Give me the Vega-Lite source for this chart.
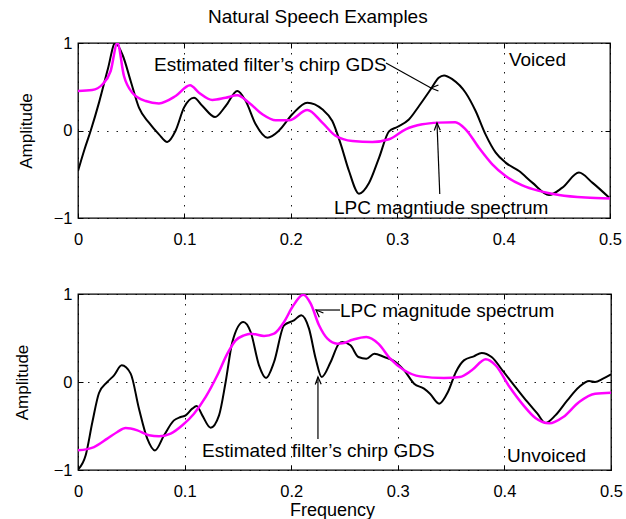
{
  "$schema": "https://vega.github.io/schema/vega-lite/v6.json",
  "padding": {"left": 12, "top": 8, "right": 8, "bottom": 0},
  "title": {"text": "Natural Speech Examples", "fontSize": 19, "fontWeight": "normal", "anchor": "middle", "offset": 7, "color": "#000"},
  "config": {
    "font": "Liberation Sans",
    "view": {"stroke": "#000", "strokeWidth": 1.3},
    "axis": {
      "labelFontSize": 16.5, "labelColor": "#000", "titleFontSize": 17, "titleFontWeight": "normal", "titleColor": "#000",
      "format": "~g",
      "domain": false, "ticks": true, "tickSize": -5, "tickColor": "#000", "tickWidth": 1,
      "grid": true, "gridColor": "#000", "gridDash": [1.5, 8], "gridWidth": 1, "gridOpacity": 0.9
    }
  },
  "datasets": {
    "voiced": [
      {"series": "gds", "f": 0.0, "amp": -0.463}, {"series": "gds", "f": 0.006, "amp": -0.22}, {"series": "gds", "f": 0.012, "amp": 0.0},
      {"series": "gds", "f": 0.02, "amp": 0.33}, {"series": "gds", "f": 0.028, "amp": 0.7}, {"series": "gds", "f": 0.035, "amp": 1.0},
      {"series": "gds", "f": 0.042, "amp": 0.86}, {"series": "gds", "f": 0.0495, "amp": 0.566}, {"series": "gds", "f": 0.0573, "amp": 0.261},
      {"series": "gds", "f": 0.0667, "amp": 0.089}, {"series": "gds", "f": 0.0761, "amp": -0.044}, {"series": "gds", "f": 0.0839, "amp": -0.131},
      {"series": "gds", "f": 0.0918, "amp": 0.0}, {"series": "gds", "f": 0.0996, "amp": 0.261}, {"series": "gds", "f": 0.109, "amp": 0.375},
      {"series": "gds", "f": 0.117, "amp": 0.28}, {"series": "gds", "f": 0.1288, "amp": 0.154}, {"series": "gds", "f": 0.1388, "amp": 0.28},
      {"series": "gds", "f": 0.1497, "amp": 0.451}, {"series": "gds", "f": 0.1576, "amp": 0.337}, {"series": "gds", "f": 0.167, "amp": 0.071},
      {"series": "gds", "f": 0.178, "amp": -0.082}, {"series": "gds", "f": 0.189, "amp": 0.0}, {"series": "gds", "f": 0.2014, "amp": 0.185},
      {"series": "gds", "f": 0.2155, "amp": 0.318}, {"series": "gds", "f": 0.2296, "amp": 0.242}, {"series": "gds", "f": 0.239, "amp": 0.108},
      {"series": "gds", "f": 0.247, "amp": -0.158}, {"series": "gds", "f": 0.2547, "amp": -0.463}, {"series": "gds", "f": 0.2641, "amp": -0.722},
      {"series": "gds", "f": 0.2735, "amp": -0.6}, {"series": "gds", "f": 0.283, "amp": -0.31}, {"series": "gds", "f": 0.2923, "amp": -0.01},
      {"series": "gds", "f": 0.3, "amp": 0.04}, {"series": "gds", "f": 0.311, "amp": 0.126}, {"series": "gds", "f": 0.3205, "amp": 0.28},
      {"series": "gds", "f": 0.3315, "amp": 0.471}, {"series": "gds", "f": 0.339, "amp": 0.604}, {"series": "gds", "f": 0.344, "amp": 0.63},
      {"series": "gds", "f": 0.352, "amp": 0.585}, {"series": "gds", "f": 0.3643, "amp": 0.432}, {"series": "gds", "f": 0.3737, "amp": 0.223},
      {"series": "gds", "f": 0.383, "amp": -0.044}, {"series": "gds", "f": 0.3926, "amp": -0.253}, {"series": "gds", "f": 0.4019, "amp": -0.367},
      {"series": "gds", "f": 0.4145, "amp": -0.463}, {"series": "gds", "f": 0.427, "amp": -0.596}, {"series": "gds", "f": 0.4427, "amp": -0.737},
      {"series": "gds", "f": 0.4552, "amp": -0.653}, {"series": "gds", "f": 0.4708, "amp": -0.481}, {"series": "gds", "f": 0.4834, "amp": -0.596},
      {"series": "gds", "f": 0.4991, "amp": -0.767},
      {"series": "lpc", "f": 0.0, "amp": 0.451}, {"series": "lpc", "f": 0.0133, "amp": 0.463}, {"series": "lpc", "f": 0.0229, "amp": 0.526},
      {"series": "lpc", "f": 0.0307, "amp": 0.68}, {"series": "lpc", "f": 0.037, "amp": 1.0}, {"series": "lpc", "f": 0.0432, "amp": 0.623},
      {"series": "lpc", "f": 0.051, "amp": 0.432}, {"series": "lpc", "f": 0.0636, "amp": 0.337}, {"series": "lpc", "f": 0.0761, "amp": 0.31},
      {"series": "lpc", "f": 0.0918, "amp": 0.394}, {"series": "lpc", "f": 0.1053, "amp": 0.516}, {"series": "lpc", "f": 0.1137, "amp": 0.432},
      {"series": "lpc", "f": 0.1263, "amp": 0.349}, {"series": "lpc", "f": 0.1388, "amp": 0.375}, {"series": "lpc", "f": 0.1497, "amp": 0.402},
      {"series": "lpc", "f": 0.1607, "amp": 0.318}, {"series": "lpc", "f": 0.1733, "amp": 0.185}, {"series": "lpc", "f": 0.1858, "amp": 0.116},
      {"series": "lpc", "f": 0.1984, "amp": 0.116}, {"series": "lpc", "f": 0.2155, "amp": 0.234}, {"series": "lpc", "f": 0.2296, "amp": 0.09},
      {"series": "lpc", "f": 0.242, "amp": -0.06}, {"series": "lpc", "f": 0.2579, "amp": -0.12}, {"series": "lpc", "f": 0.2766, "amp": -0.131},
      {"series": "lpc", "f": 0.2923, "amp": -0.1}, {"series": "lpc", "f": 0.3079, "amp": 0.014}, {"series": "lpc", "f": 0.3236, "amp": 0.071},
      {"series": "lpc", "f": 0.339, "amp": 0.09}, {"series": "lpc", "f": 0.3546, "amp": 0.095}, {"series": "lpc", "f": 0.3643, "amp": 0.014},
      {"series": "lpc", "f": 0.3768, "amp": -0.196}, {"series": "lpc", "f": 0.3894, "amp": -0.386}, {"series": "lpc", "f": 0.4019, "amp": -0.52},
      {"series": "lpc", "f": 0.4176, "amp": -0.627}, {"series": "lpc", "f": 0.4333, "amp": -0.69}, {"series": "lpc", "f": 0.4521, "amp": -0.737},
      {"series": "lpc", "f": 0.4771, "amp": -0.767}, {"series": "lpc", "f": 0.5, "amp": -0.778}
    ],
    "unvoiced": [
      {"series": "gds", "f": 0.0, "amp": -0.996}, {"series": "gds", "f": 0.0072, "amp": -0.833}, {"series": "gds", "f": 0.0135, "amp": -0.455},
      {"series": "gds", "f": 0.0197, "amp": -0.125}, {"series": "gds", "f": 0.0275, "amp": 0.0}, {"series": "gds", "f": 0.0338, "amp": 0.076},
      {"series": "gds", "f": 0.041, "amp": 0.189}, {"series": "gds", "f": 0.0494, "amp": 0.095}, {"series": "gds", "f": 0.0572, "amp": -0.303},
      {"series": "gds", "f": 0.065, "amp": -0.644}, {"series": "gds", "f": 0.0722, "amp": -0.777}, {"series": "gds", "f": 0.0807, "amp": -0.606},
      {"series": "gds", "f": 0.09, "amp": -0.436}, {"series": "gds", "f": 0.0963, "amp": -0.398}, {"series": "gds", "f": 0.101, "amp": -0.379},
      {"series": "gds", "f": 0.1072, "amp": -0.303}, {"series": "gds", "f": 0.1113, "amp": -0.273}, {"series": "gds", "f": 0.1166, "amp": -0.379},
      {"series": "gds", "f": 0.1244, "amp": -0.519}, {"series": "gds", "f": 0.1323, "amp": -0.379}, {"series": "gds", "f": 0.1385, "amp": 0.0},
      {"series": "gds", "f": 0.1448, "amp": 0.455}, {"series": "gds", "f": 0.1551, "amp": 0.682}, {"series": "gds", "f": 0.162, "amp": 0.568},
      {"series": "gds", "f": 0.1698, "amp": 0.189}, {"series": "gds", "f": 0.1764, "amp": 0.045}, {"series": "gds", "f": 0.1839, "amp": 0.227},
      {"series": "gds", "f": 0.1933, "amp": 0.644}, {"series": "gds", "f": 0.2026, "amp": 0.701}, {"series": "gds", "f": 0.2095, "amp": 0.758},
      {"series": "gds", "f": 0.2167, "amp": 0.606}, {"series": "gds", "f": 0.223, "amp": 0.265}, {"series": "gds", "f": 0.2286, "amp": 0.057},
      {"series": "gds", "f": 0.237, "amp": 0.227}, {"series": "gds", "f": 0.2448, "amp": 0.436}, {"series": "gds", "f": 0.248, "amp": 0.455},
      {"series": "gds", "f": 0.2556, "amp": 0.417}, {"series": "gds", "f": 0.263, "amp": 0.284}, {"series": "gds", "f": 0.2705, "amp": 0.265},
      {"series": "gds", "f": 0.278, "amp": 0.322}, {"series": "gds", "f": 0.2873, "amp": 0.284}, {"series": "gds", "f": 0.2966, "amp": 0.239},
      {"series": "gds", "f": 0.306, "amp": 0.133}, {"series": "gds", "f": 0.3153, "amp": -0.019}, {"series": "gds", "f": 0.3246, "amp": -0.076},
      {"series": "gds", "f": 0.3302, "amp": -0.133}, {"series": "gds", "f": 0.3388, "amp": -0.246}, {"series": "gds", "f": 0.347, "amp": -0.114},
      {"series": "gds", "f": 0.3545, "amp": 0.114}, {"series": "gds", "f": 0.362, "amp": 0.246}, {"series": "gds", "f": 0.3713, "amp": 0.292},
      {"series": "gds", "f": 0.3787, "amp": 0.33}, {"series": "gds", "f": 0.388, "amp": 0.284}, {"series": "gds", "f": 0.3993, "amp": 0.114},
      {"series": "gds", "f": 0.4104, "amp": -0.057}, {"series": "gds", "f": 0.4216, "amp": -0.227}, {"series": "gds", "f": 0.431, "amp": -0.36},
      {"series": "gds", "f": 0.4384, "amp": -0.466}, {"series": "gds", "f": 0.4478, "amp": -0.379}, {"series": "gds", "f": 0.459, "amp": -0.208},
      {"series": "gds", "f": 0.4701, "amp": -0.057}, {"series": "gds", "f": 0.4795, "amp": 0.011}, {"series": "gds", "f": 0.485, "amp": 0.0},
      {"series": "gds", "f": 0.4925, "amp": 0.038}, {"series": "gds", "f": 0.5, "amp": 0.087},
      {"series": "lpc", "f": 0.0, "amp": -0.777}, {"series": "lpc", "f": 0.015, "amp": -0.739}, {"series": "lpc", "f": 0.0275, "amp": -0.644},
      {"series": "lpc", "f": 0.0369, "amp": -0.568}, {"series": "lpc", "f": 0.0447, "amp": -0.523}, {"series": "lpc", "f": 0.0557, "amp": -0.55},
      {"series": "lpc", "f": 0.0666, "amp": -0.606}, {"series": "lpc", "f": 0.076, "amp": -0.617}, {"series": "lpc", "f": 0.0869, "amp": -0.587},
      {"series": "lpc", "f": 0.0979, "amp": -0.492}, {"series": "lpc", "f": 0.1088, "amp": -0.36}, {"series": "lpc", "f": 0.1198, "amp": -0.17},
      {"series": "lpc", "f": 0.1307, "amp": 0.076}, {"series": "lpc", "f": 0.1401, "amp": 0.322}, {"series": "lpc", "f": 0.1479, "amp": 0.473},
      {"series": "lpc", "f": 0.1557, "amp": 0.53}, {"series": "lpc", "f": 0.162, "amp": 0.549}, {"series": "lpc", "f": 0.1745, "amp": 0.523},
      {"series": "lpc", "f": 0.1839, "amp": 0.549}, {"series": "lpc", "f": 0.1933, "amp": 0.682}, {"series": "lpc", "f": 0.2011, "amp": 0.852},
      {"series": "lpc", "f": 0.2114, "amp": 0.992}, {"series": "lpc", "f": 0.2183, "amp": 0.89}, {"series": "lpc", "f": 0.2261, "amp": 0.644},
      {"series": "lpc", "f": 0.234, "amp": 0.492}, {"series": "lpc", "f": 0.2433, "amp": 0.436}, {"series": "lpc", "f": 0.2481, "amp": 0.44},
      {"series": "lpc", "f": 0.2575, "amp": 0.48}, {"series": "lpc", "f": 0.2705, "amp": 0.511}, {"series": "lpc", "f": 0.2817, "amp": 0.436},
      {"series": "lpc", "f": 0.2929, "amp": 0.265}, {"series": "lpc", "f": 0.306, "amp": 0.133}, {"series": "lpc", "f": 0.3209, "amp": 0.064},
      {"series": "lpc", "f": 0.3433, "amp": 0.045}, {"series": "lpc", "f": 0.3582, "amp": 0.057}, {"series": "lpc", "f": 0.3694, "amp": 0.133},
      {"series": "lpc", "f": 0.3825, "amp": 0.258}, {"series": "lpc", "f": 0.3918, "amp": 0.189}, {"series": "lpc", "f": 0.4049, "amp": -0.057},
      {"series": "lpc", "f": 0.4179, "amp": -0.265}, {"series": "lpc", "f": 0.4291, "amp": -0.409}, {"series": "lpc", "f": 0.4422, "amp": -0.47},
      {"series": "lpc", "f": 0.4552, "amp": -0.398}, {"series": "lpc", "f": 0.4701, "amp": -0.227}, {"series": "lpc", "f": 0.4851, "amp": -0.133},
      {"series": "lpc", "f": 0.5, "amp": -0.121}
    ],
    "voicedNotes": [
      {"f": 0.0714, "amp": 0.68, "label": "Estimated filter’s chirp GDS"},
      {"f": 0.2406, "amp": -0.954, "label": "LPC magntiude spectrum"},
      {"f": 0.405, "amp": 0.737, "label": "Voiced"}
    ],
    "voicedArrows": [
      {"f0": 0.2895, "a0": 0.771, "f1": 0.3318, "a1": 0.486, "heading": "down-right"},
      {"f0": 0.340, "a0": -0.726, "f1": 0.3374, "a1": 0.086, "heading": "up"}
    ],
    "unvoicedNotes": [
      {"f": 0.2458, "amp": 0.739, "label": "LPC magnitude spectrum"},
      {"f": 0.1163, "amp": -0.852, "label": "Estimated filter’s chirp GDS"},
      {"f": 0.4024, "amp": -0.909, "label": "Unvoiced"}
    ],
    "unvoicedArrows": [
      {"f0": 0.2458, "a0": 0.818, "f1": 0.2233, "a1": 0.818, "heading": "left"},
      {"f0": 0.2251, "a0": -0.648, "f1": 0.2251, "a1": 0.057, "heading": "up"}
    ]
  },
  "spacing": 36,
  "vconcat": [
    {
      "width": 532,
      "height": 175,
      "resolve": {"axis": {"x": "independent", "y": "independent"}},
      "layer": [
        {
          "data": {"name": "voiced"},
          "transform": [{"filter": "datum.series === 'gds'"}],
          "mark": {"type": "line", "color": "#000", "strokeWidth": 2, "interpolate": "monotone", "clip": true},
          "encoding": {
            "x": {"field": "f", "type": "quantitative", "scale": {"domain": [0, 0.5], "nice": false},
                  "axis": {"values": [0, 0.1, 0.2, 0.3, 0.4, 0.5], "title": null, "labelPadding": 18, "labelFlush": false}},
            "y": {"field": "amp", "type": "quantitative", "scale": {"domain": [-1, 1], "nice": false},
                  "axis": {"values": [-1, 0, 1], "title": "Amplitude", "labelPadding": 11, "titlePadding": 18}}
          }
        },
        {
          "data": {"name": "voiced"},
          "transform": [{"filter": "datum.series === 'lpc'"}],
          "mark": {"type": "line", "color": "#ff00ff", "strokeWidth": 2.5, "interpolate": "monotone", "clip": true},
          "encoding": {
            "x": {"field": "f", "type": "quantitative",
                  "axis": {"orient": "top", "values": [0, 0.1, 0.2, 0.3, 0.4, 0.5], "labels": false, "grid": false, "title": null}},
            "y": {"field": "amp", "type": "quantitative",
                  "axis": {"orient": "right", "values": [-1, 0, 1], "labels": false, "grid": false, "title": null}}
          }
        },
        {
          "data": {"name": "voicedArrows"},
          "mark": {"type": "rule", "color": "#000", "strokeWidth": 1.2},
          "encoding": {
            "x": {"field": "f0", "type": "quantitative", "axis": null},
            "y": {"field": "a0", "type": "quantitative", "axis": null},
            "x2": {"field": "f1"},
            "y2": {"field": "a1"}
          }
        },
        {
          "data": {"name": "voicedArrows"},
          "mark": {"type": "point", "shape": "M -0.4 1 L 0 0 L 0.4 1", "size": 220, "filled": false, "stroke": "#000", "strokeWidth": 1.2, "opacity": 1},
          "encoding": {
            "x": {"field": "f1", "type": "quantitative", "axis": null},
            "y": {"field": "a1", "type": "quantitative", "axis": null},
            "angle": {"field": "heading", "type": "nominal", "scale": {"domain": ["up", "left", "down-right"], "range": [358, 270, 119]}, "legend": null}
          }
        },
        {
          "data": {"name": "voicedNotes"},
          "mark": {"type": "text", "align": "left", "baseline": "alphabetic", "fontSize": 19, "color": "#000"},
          "encoding": {
            "x": {"field": "f", "type": "quantitative", "axis": null},
            "y": {"field": "amp", "type": "quantitative", "axis": null},
            "text": {"field": "label"}
          }
        }
      ]
    },
    {
      "width": 533,
      "height": 176,
      "resolve": {"axis": {"x": "independent", "y": "independent"}},
      "layer": [
        {
          "data": {"name": "unvoiced"},
          "transform": [{"filter": "datum.series === 'gds'"}],
          "mark": {"type": "line", "color": "#000", "strokeWidth": 2, "interpolate": "monotone", "clip": true},
          "encoding": {
            "x": {"field": "f", "type": "quantitative", "scale": {"domain": [0, 0.5], "nice": false},
                  "axis": {"values": [0, 0.1, 0.2, 0.3, 0.4, 0.5], "title": "Frequency", "titleFontSize": 18, "labelPadding": 18, "titlePadding": 2, "titleX": 254, "labelFlush": false}},
            "y": {"field": "amp", "type": "quantitative", "scale": {"domain": [-1, 1], "nice": false},
                  "axis": {"values": [-1, 0, 1], "title": "Amplitude", "labelPadding": 11, "titlePadding": 22}}
          }
        },
        {
          "data": {"name": "unvoiced"},
          "transform": [{"filter": "datum.series === 'lpc'"}],
          "mark": {"type": "line", "color": "#ff00ff", "strokeWidth": 2.5, "interpolate": "monotone", "clip": true},
          "encoding": {
            "x": {"field": "f", "type": "quantitative",
                  "axis": {"orient": "top", "values": [0, 0.1, 0.2, 0.3, 0.4, 0.5], "labels": false, "grid": false, "title": null}},
            "y": {"field": "amp", "type": "quantitative",
                  "axis": {"orient": "right", "values": [-1, 0, 1], "labels": false, "grid": false, "title": null}}
          }
        },
        {
          "data": {"name": "unvoicedArrows"},
          "mark": {"type": "rule", "color": "#000", "strokeWidth": 1.2},
          "encoding": {
            "x": {"field": "f0", "type": "quantitative", "axis": null},
            "y": {"field": "a0", "type": "quantitative", "axis": null},
            "x2": {"field": "f1"},
            "y2": {"field": "a1"}
          }
        },
        {
          "data": {"name": "unvoicedArrows"},
          "mark": {"type": "point", "shape": "M -0.4 1 L 0 0 L 0.4 1", "size": 220, "filled": false, "stroke": "#000", "strokeWidth": 1.2, "opacity": 1},
          "encoding": {
            "x": {"field": "f1", "type": "quantitative", "axis": null},
            "y": {"field": "a1", "type": "quantitative", "axis": null},
            "angle": {"field": "heading", "type": "nominal", "scale": {"domain": ["up", "left", "down-right"], "range": [0, 270, 119]}, "legend": null}
          }
        },
        {
          "data": {"name": "unvoicedNotes"},
          "mark": {"type": "text", "align": "left", "baseline": "alphabetic", "fontSize": 19, "color": "#000"},
          "encoding": {
            "x": {"field": "f", "type": "quantitative", "axis": null},
            "y": {"field": "amp", "type": "quantitative", "axis": null},
            "text": {"field": "label"}
          }
        }
      ]
    }
  ]
}
